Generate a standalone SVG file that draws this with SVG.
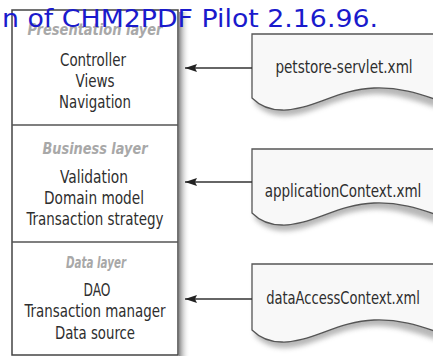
<svg xmlns="http://www.w3.org/2000/svg" width="433" height="357" viewBox="0 0 433 357">
<defs>
<style>
.body{font-family:"DejaVu Sans Condensed","DejaVu Sans",sans-serif;font-stretch:condensed;font-size:18px;fill:#2e2e2e;text-anchor:middle}
.title{font-family:"DejaVu Sans Condensed","DejaVu Sans",sans-serif;font-stretch:condensed;font-size:16px;font-weight:bold;font-style:italic;fill:#a8a8a8;text-anchor:middle}
.doc{fill:#f8f8f8;stroke:#555;stroke-width:1.3}
.conn{stroke:#333;stroke-width:1.3;fill:none}
.hdr{font-family:"DejaVu Sans",sans-serif;font-size:25px;fill:#1a1acc}
</style>
<linearGradient id="sh" x1="0" x2="1" y1="0" y2="0">
<stop offset="0" stop-color="#888"/>
<stop offset="1" stop-color="#fff" stop-opacity="0"/>
</linearGradient>
<filter id="blur" x="-10%" y="-10%" width="120%" height="140%"><feGaussianBlur stdDeviation="2.5"/></filter>
<marker id="ah" markerWidth="13" markerHeight="9" refX="12" refY="4" orient="auto" markerUnits="userSpaceOnUse">
<path d="M0,0 L12,4 L0,8 L2,4 Z" fill="#222"/>
</marker>
</defs>
<rect width="433" height="357" fill="#fff"/>
<g id="layers">
<rect x="179" y="12" width="11" height="344" fill="url(#sh)"/>
<rect x="12" y="10" width="166" height="345" fill="#fff" stroke="#444" stroke-width="1.5"/>
<line x1="12" y1="125" x2="178" y2="125" stroke="#555" stroke-width="1.5"/>
<line x1="12" y1="242" x2="178" y2="242" stroke="#555" stroke-width="1.5"/>
</g>
<g id="presentation">
<text class="title" x="95" y="35" textLength="135" lengthAdjust="spacingAndGlyphs">Presentation layer</text>
<text class="body" x="93" y="66" textLength="66" lengthAdjust="spacingAndGlyphs">Controller</text>
<text class="body" x="95" y="87" textLength="39" lengthAdjust="spacingAndGlyphs">Views</text>
<text class="body" x="95" y="108" textLength="72" lengthAdjust="spacingAndGlyphs">Navigation</text>
</g>
<g id="business">
<text class="title" x="95" y="154" textLength="105" lengthAdjust="spacingAndGlyphs">Business layer</text>
<text class="body" x="94" y="183" textLength="68" lengthAdjust="spacingAndGlyphs">Validation</text>
<text class="body" x="94" y="204" textLength="100" lengthAdjust="spacingAndGlyphs">Domain model</text>
<text class="body" x="95" y="225" textLength="137" lengthAdjust="spacingAndGlyphs">Transaction strategy</text>
</g>
<g id="data">
<text class="title" x="96" y="268" textLength="60" lengthAdjust="spacingAndGlyphs">Data layer</text>
<text class="body" x="97" y="296" textLength="27" lengthAdjust="spacingAndGlyphs">DAO</text>
<text class="body" x="95" y="317" textLength="141" lengthAdjust="spacingAndGlyphs">Transaction manager</text>
<text class="body" x="95" y="339" textLength="80" lengthAdjust="spacingAndGlyphs">Data source</text>
</g>
<g id="doc1">
<path d="M255,104 C262,110 270,116 285,116 C312,116 338,95 375,94 C398,94 415,101 438,108 V40 H255 Z" fill="#999" filter="url(#blur)" opacity="0.7"/>
<path class="doc" d="M252,34 H440 V101 C418,93 398,87 374,88 C338,89 310,111 282,110 C268,110 258,104 252,98 Z"/>
<text class="body" transform="translate(344,73) scale(0.75,1)" x="0" y="0" textLength="183" lengthAdjust="spacingAndGlyphs">petstore-servlet.xml</text>
</g>
<g id="doc2">
<path d="M255,219 C262,225 270,231 285,231 C312,231 338,210 375,209 C398,209 415,216 438,223 V155 H255 Z" fill="#999" filter="url(#blur)" opacity="0.7"/>
<path class="doc" d="M252,149 H440 V216 C418,208 398,202 374,203 C338,204 310,226 282,225 C268,225 258,219 252,213 Z"/>
<text class="body" transform="translate(343,197) scale(0.75,1)" x="0" y="0" textLength="209" lengthAdjust="spacingAndGlyphs">applicationContext.xml</text>
</g>
<g id="doc3">
<path d="M255,336 C262,342 270,348 285,348 C312,348 338,327 375,326 C398,326 415,333 438,340 V270 H255 Z" fill="#999" filter="url(#blur)" opacity="0.7"/>
<path class="doc" d="M252,264 H440 V333 C418,325 398,319 374,320 C338,321 310,343 282,342 C268,342 258,336 252,330 Z"/>
<text class="body" transform="translate(343,304) scale(0.75,1)" x="0" y="0" textLength="205" lengthAdjust="spacingAndGlyphs">dataAccessContext.xml</text>
</g>
<g id="connectors">
<line class="conn" x1="252" y1="68" x2="185" y2="68" marker-end="url(#ah)"/>
<line class="conn" x1="252" y1="182" x2="185" y2="182" marker-end="url(#ah)"/>
<line class="conn" x1="252" y1="299" x2="185" y2="299" marker-end="url(#ah)"/>
</g>
<text class="hdr" x="2" y="27" textLength="376" lengthAdjust="spacingAndGlyphs">n of CHM2PDF Pilot 2.16.96.</text>
</svg>
